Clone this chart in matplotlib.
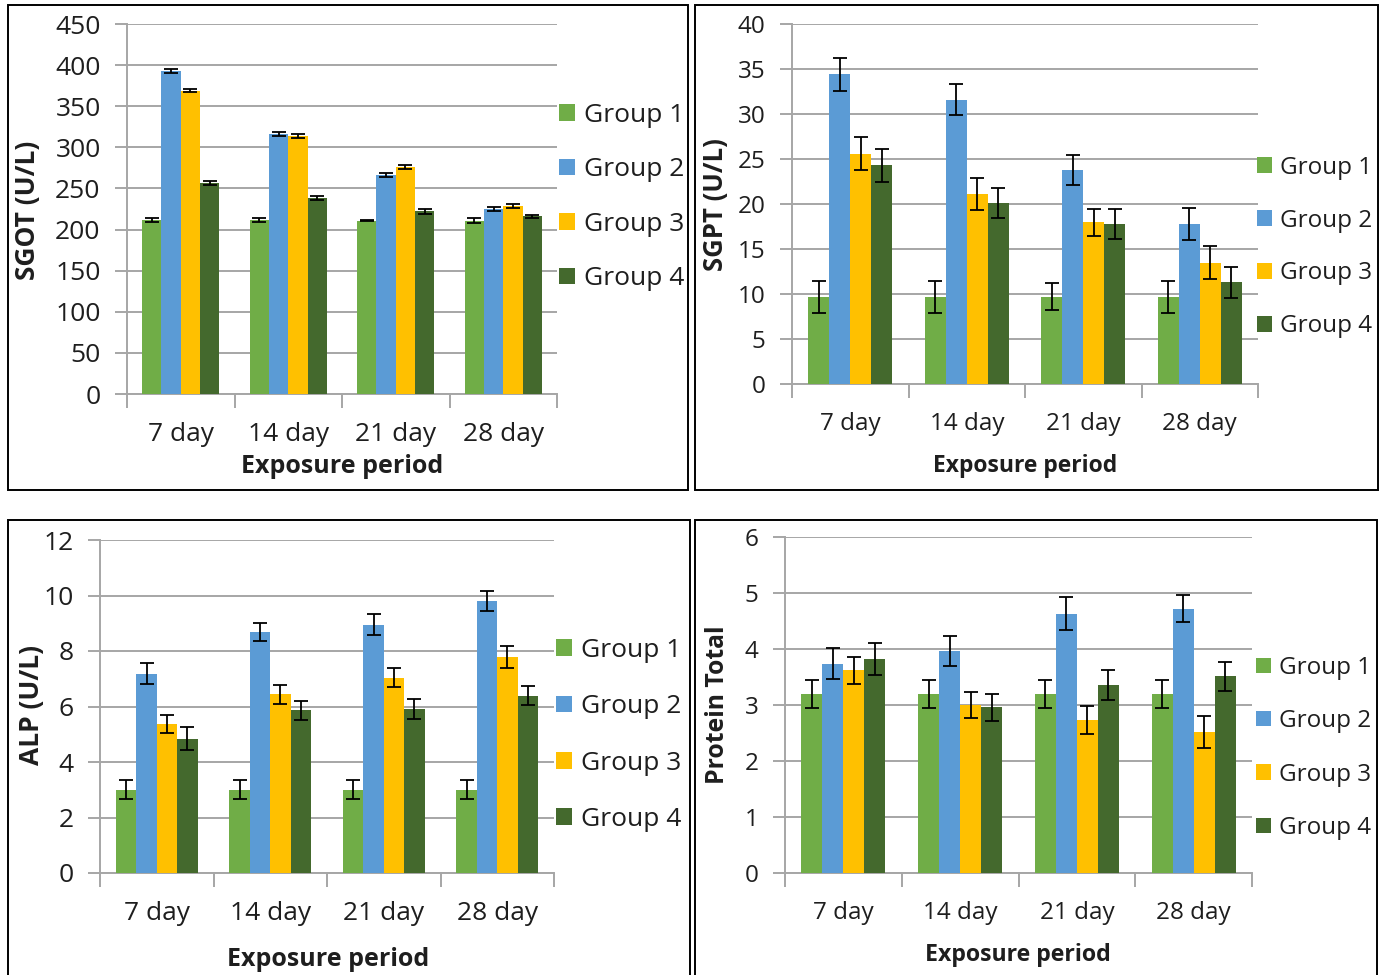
import numpy as np
import matplotlib.pyplot as plt
from matplotlib.patches import Rectangle, Patch

plt.rcParams['font.family'] = ['Open Sans', 'DejaVu Sans']

# ---------------
# Data
# ---------------

days = ['7 day', '14 day', '21 day', '28 day']
groups = ['Group 1', 'Group 2', 'Group 3', 'Group 4']
colors = ['#70AD47', '#5B9BD5', '#FFC000', '#44692D']

# SGOT (U/L), rows = groups, columns = exposure period
sgot = [[212, 212, 211, 211],
        [393, 316, 266, 225],
        [369, 314, 276, 229],
        [257, 238, 222, 216]]
sgot_err = [[2.5, 2.5, 1.0, 2.5],
            [2.5, 2.5, 2.5, 2.5],
            [2.0, 2.5, 2.5, 2.5],
            [2.5, 2.5, 2.5, 2.0]]

# SGPT (U/L)
sgpt = [[9.7, 9.7, 9.7, 9.7],
        [34.4, 31.6, 23.8, 17.8],
        [25.6, 21.1, 18.0, 13.5],
        [24.3, 20.1, 17.8, 11.3]]
sgpt_err = [[1.8, 1.8, 1.5, 1.8],
            [1.8, 1.7, 1.7, 1.75],
            [1.8, 1.8, 1.5, 1.8],
            [1.8, 1.65, 1.7, 1.7]]

# ALP (U/L)
alp = [[3.0, 3.0, 3.0, 3.0],
       [7.18, 8.68, 8.95, 9.80],
       [5.38, 6.44, 7.04, 7.78],
       [4.84, 5.86, 5.91, 6.39]]
alp_err = [[0.35, 0.35, 0.35, 0.35],
           [0.38, 0.32, 0.38, 0.35],
           [0.33, 0.35, 0.33, 0.41],
           [0.41, 0.35, 0.35, 0.35]]

# Protein total
protein = [[3.19, 3.19, 3.19, 3.19],
           [3.74, 3.97, 4.63, 4.72],
           [3.62, 3.00, 2.73, 2.52],
           [3.82, 2.96, 3.36, 3.51]]
protein_err = [[0.25, 0.25, 0.25, 0.25],
               [0.28, 0.265, 0.29, 0.245],
               [0.245, 0.24, 0.245, 0.29],
               [0.28, 0.24, 0.27, 0.26]]

W, H = 1386, 975
fig = plt.figure(figsize=(W / 100, H / 100), dpi=100)

TXT = '#1e1e1e'
GRID = '#a6a6a6'


def fx(x):
    return x / W


def fy(y):
    return 1 - y / H


def panel(box, ax_px, vals, errs, ymax, step, ylabel, ylab_xy, xlab_xy,
          leg_xy, leg_space, fs, xl_fs, yl_fs):
    # frame around the panel
    x0, y0, x1, y1 = box
    fig.patches.append(Rectangle((fx(x0), fy(y1)), fx(x1 - x0), (y1 - y0) / H,
                                 transform=fig.transFigure, fill=False,
                                 edgecolor='black', lw=1.4, zorder=0))
    l, t, r, b = ax_px
    ax = fig.add_axes([fx(l), fy(b), fx(r - l), (b - t) / H])
    x = np.arange(len(days))
    w = 0.18
    for i in range(len(groups)):
        ax.bar(x + (i - 1.5) * w, vals[i], w, color=colors[i],
               yerr=errs[i], capsize=5,
               error_kw=dict(ecolor='black', elinewidth=1.3, capthick=1.3),
               zorder=3, label=groups[i])
    ax.set_xlim(-0.5, len(days) - 0.5)
    ax.set_ylim(0, ymax)
    ax.set_yticks(np.arange(0, ymax + step / 2, step))
    ax.yaxis.grid(True, color=GRID, lw=1.4, zorder=0)
    ax.set_axisbelow(True)
    for s in ['top', 'right']:
        ax.spines[s].set_visible(False)
    for s in ['left', 'bottom']:
        ax.spines[s].set_color(GRID)
        ax.spines[s].set_linewidth(1.4)
    # category boundary ticks on the x axis
    ax.set_xticks(np.arange(-0.5, len(days)), minor=False)
    ax.set_xticklabels([])
    ax.set_xticks(x, minor=True)
    ax.set_xticklabels(days, minor=True, fontsize=fs, color=TXT)
    ax.tick_params(axis='x', which='major', length=10, width=1.4,
                   color=GRID, direction='out')
    ax.tick_params(axis='x', which='minor', length=0, pad=20)
    ax.tick_params(axis='y', length=9, width=1.4, color=GRID, pad=10,
                   labelsize=fs, labelcolor=TXT)
    fig.text(fx(ylab_xy[0]), fy(ylab_xy[1]), ylabel, rotation=90,
             ha='center', va='center', fontsize=yl_fs, fontweight='bold',
             color=TXT)
    fig.text(fx(xlab_xy[0]), fy(xlab_xy[1]), 'Exposure period',
             ha='center', va='center', fontsize=xl_fs, fontweight='bold',
             color=TXT)
    handles = [Patch(facecolor=c) for c in colors]
    fig.legend(handles, groups, loc='center left',
               bbox_to_anchor=(fx(leg_xy[0]), fy(leg_xy[1])),
               bbox_transform=fig.transFigure, frameon=False,
               fontsize=fs, labelcolor=TXT, borderaxespad=0, borderpad=0,
               handlelength=0.6, handleheight=0.6, handletextpad=0.36,
               labelspacing=leg_space)
    return ax


panel((8, 5, 688, 490), (127, 24, 557, 394), sgot, sgot_err, 450, 50,
      'SGOT (U/L)', (28, 210), (342, 467), (559, 197), 1.12, 19, 18, 19)
panel((695, 5, 1378, 490), (792, 24, 1258, 384), sgpt, sgpt_err, 40, 5,
      'SGPT (U/L)', (716, 205), (1025, 466), (1257, 247), 1.19, 17.5, 16.5,
      18.5)
panel((8, 520, 690, 990), (100, 540, 554, 873), alp, alp_err, 12, 2,
      'ALP (U/L)', (32, 705), (328, 960), (556, 735), 1.19, 19, 18, 19)
panel((695, 520, 1377, 990), (785, 537, 1252, 873), protein, protein_err,
      6, 1, 'Protein Total', (718, 705), (1018, 955), (1256, 748), 1.21,
      17.5, 16.7, 17.8)

fig.savefig('out.png', dpi=100)
